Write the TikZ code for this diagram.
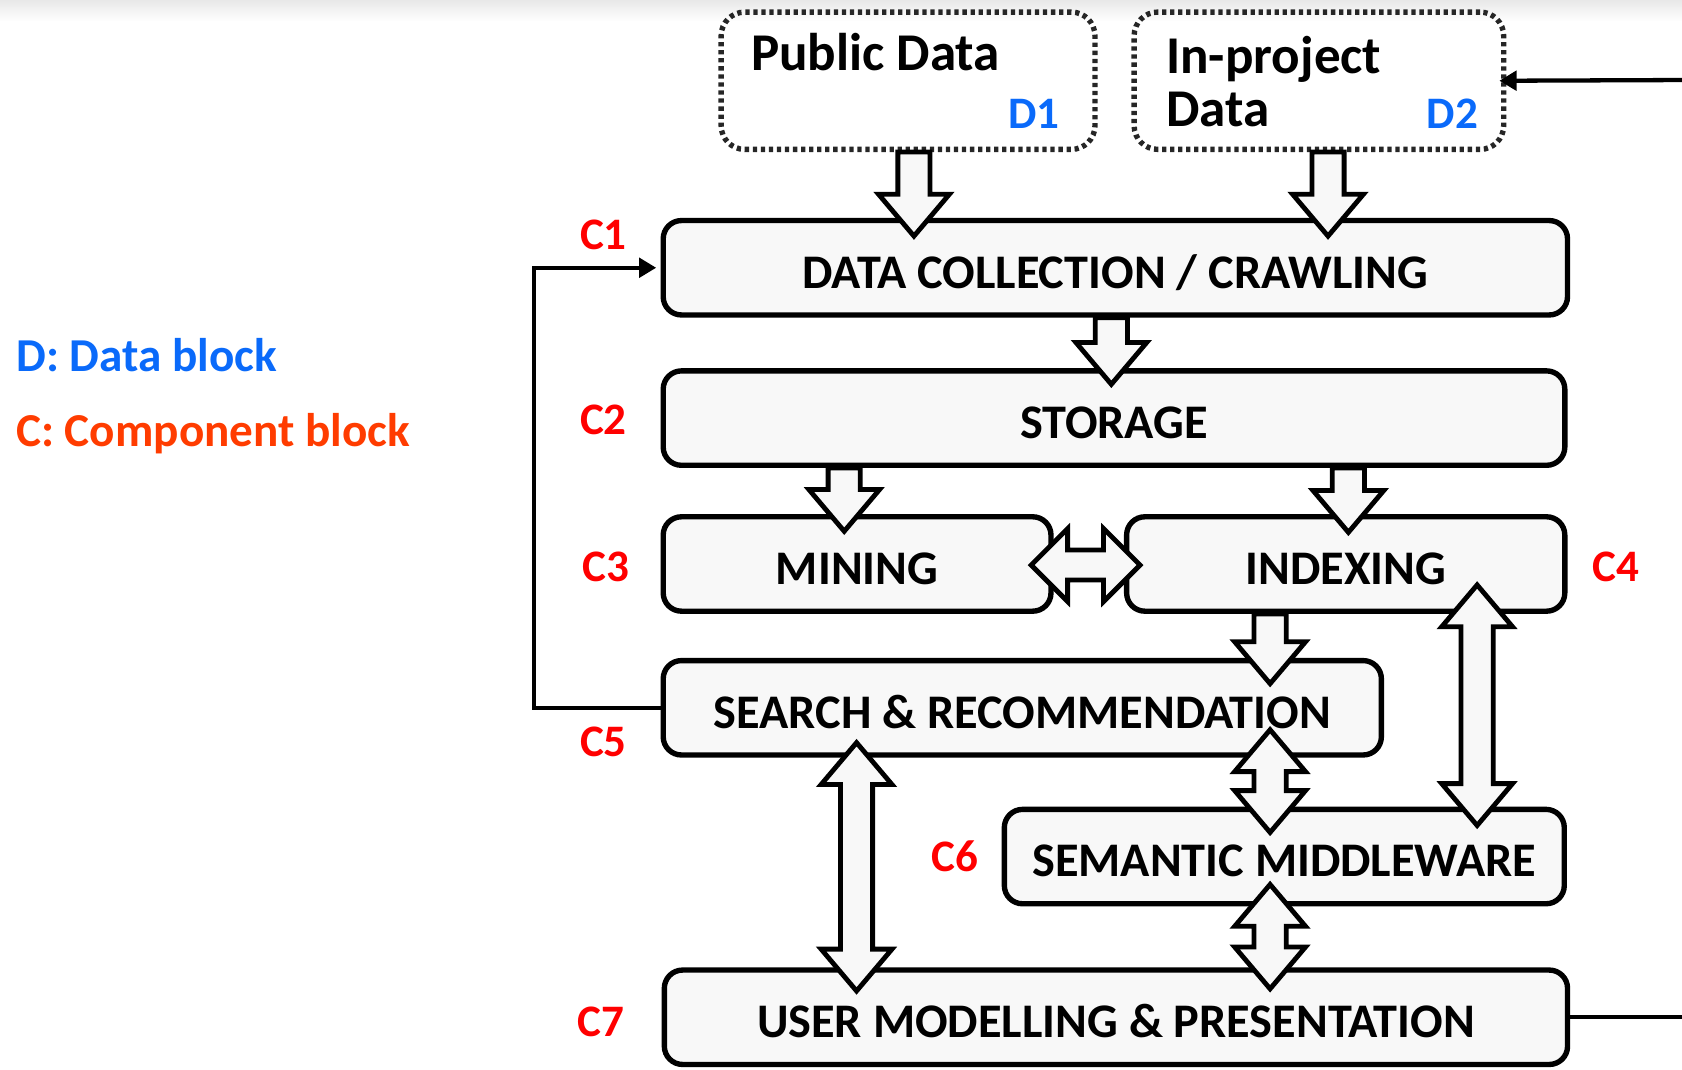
\documentclass[tikz,border=0pt]{standalone}
\usepackage{fontspec}
\setmainfont{Carlito}
\usetikzlibrary{calc,arrows.meta}
\definecolor{boxfill}{RGB}{248,248,248}
\definecolor{dblue}{RGB}{10,106,250}
\definecolor{cred}{RGB}{255,0,0}
\definecolor{legred}{RGB}{255,60,0}
\def\fatSW{15pt}\def\fatHW{33pt}\def\fatHL{39pt}
\def\fatHSW{14pt}\def\fatHHW{34pt}\def\fatHHL{34pt}
% single fat arrow pointing down: #1 tail (only y used), #2 tip
\newcommand\fatdown[2]{%
  \draw[fatarrow] let \p1=#1, \p2=#2 in
    (\x2-\fatSW,\y1) -- (\x2-\fatSW,\y2+\fatHL) -- (\x2-\fatHW,\y2+\fatHL) -- (\x2,\y2)
    -- (\x2+\fatHW,\y2+\fatHL) -- (\x2+\fatSW,\y2+\fatHL) -- (\x2+\fatSW,\y1) -- cycle;}
% vertical double fat arrow: #1 upper tip, #2 lower tip (x of #1 used)
\newcommand\fatvboth[2]{%
  \draw[fatarrow] let \p1=#1, \p2=#2 in
    (\x1,\y1) -- (\x1+\fatHW,\y1-\fatHL) -- (\x1+\fatSW,\y1-\fatHL) -- (\x1+\fatSW,\y2+\fatHL)
    -- (\x1+\fatHW,\y2+\fatHL) -- (\x1,\y2) -- (\x1-\fatHW,\y2+\fatHL) -- (\x1-\fatSW,\y2+\fatHL)
    -- (\x1-\fatSW,\y1-\fatHL) -- (\x1-\fatHW,\y1-\fatHL) -- cycle;}
% horizontal double fat arrow: #1 left tip, #2 right tip (y of #1 used)
\newcommand\fathboth[2]{%
  \draw[fatarrow] let \p1=#1, \p2=#2 in
    (\x1,\y1) -- (\x1+\fatHHL,\y1+\fatHHW) -- (\x1+\fatHHL,\y1+\fatHSW) -- (\x2-\fatHHL,\y1+\fatHSW)
    -- (\x2-\fatHHL,\y1+\fatHHW) -- (\x2,\y1) -- (\x2-\fatHHL,\y1-\fatHHW) -- (\x2-\fatHHL,\y1-\fatHSW)
    -- (\x1+\fatHHL,\y1-\fatHSW) -- (\x1+\fatHHL,\y1-\fatHHW) -- cycle;}
\begin{document}
\begin{tikzpicture}[x=1pt,y=-1pt,
  comp/.style={draw=black, line width=5pt, fill=boxfill, rounded corners=17pt,
    minimum height=88pt, inner sep=0pt, font=\bfseries\fontsize{45}{50}\selectfont,
    text height=38pt, text depth=0pt},
  dbox/.style={draw=black!85, line width=5pt, dash pattern=on 4pt off 3.5pt,
    rounded corners=22pt, minimum height=128pt, inner sep=0pt},
  dtext/.style={inner sep=0pt, font=\bfseries\fontsize{49.5}{49}\selectfont},
  dlab/.style={inner sep=0pt, text=dblue, font=\bfseries\fontsize{42}{42}\selectfont},
  clab/.style={inner sep=0pt, text=cred, font=\bfseries\fontsize{42}{42}\selectfont},
  legend/.style={inner sep=0pt, font=\bfseries\fontsize{44}{44}\selectfont},
  fatarrow/.style={draw=black, fill=boxfill, line width=4.5pt, line join=miter},
  thinline/.style={draw=black, line width=4pt},
  thinarrow/.style={thinline, -{Triangle[length=16pt,width=18pt]}}
]
\useasboundingbox (0,0) rectangle (1568,997);
\shade[top color=black!9, bottom color=white] (0,0) rectangle (1568,20);

% legend
\node[legend, text=dblue, anchor=base west] (legd) at (15,346.5) {D: Data block};
\node[legend, text=legred, anchor=base west] (legc) at (15,416.4) {C: Component block};

% data blocks
\node[dbox, minimum width=348.5pt] (d1) at (846.5,75.25) {};
\node[dbox, minimum width=344.5pt] (d2) at (1229.5,75.25) {};
\node[dtext, anchor=base west] (d1t) at (700,66) {Public Data};
\node[dtext, anchor=north west, align=left] (d2t) at (1087,34) {In-project\\Data};
\node[dlab, anchor=base east] (d1l) at (988,119.5) {D1};
\node[dlab, anchor=base east] (d2l) at (1378,119.5) {D2};

% component blocks
\node[comp, minimum width=843pt] (c1) at (1039.75,249.6) {DATA COLLECTION / CRAWLING};
\node[comp, minimum width=840.5pt] (c2) at (1038.5,389.75) {STORAGE};
\node[comp, minimum width=361.5pt] (c3) at (799,525.75) {MINING};
\node[comp, minimum width=408.5pt] (c4) at (1254.5,525.75) {INDEXING};
\node[comp, minimum width=669.5pt] (c5) at (953,659.8) {SEARCH \& RECOMMENDATION};
\node[comp, minimum width=522pt] (c6) at (1197.25,798.5) {SEMANTIC MIDDLEWARE};
\node[comp, minimum width=842pt] (c7) at (1040.3,948.3) {USER MODELLING \& PRESENTATION};

% component labels
\node[clab, anchor=base] (c1l) at (562.5,233) {C1};
\node[clab, anchor=base] (c2l) at (562.5,405.5) {C2};
\node[clab, anchor=base] (c3l) at (565,542) {C3};
\node[clab, anchor=base] (c4l) at (1506.5,542) {C4};
\node[clab, anchor=base] (c5l) at (562.5,705) {C5};
\node[clab, anchor=base] (c6l) at (890,812.6) {C6};
\node[clab, anchor=base] (c7l) at (560,966) {C7};

% thin connectors
\coordinate (fb) at (498,455);
\coordinate (inR) at (1568,74.6);
\coordinate (outR) at (1568,948.3);
\draw[thinarrow, shorten >=4pt] (c5.west) -| (fb) |- (c1.west);
\draw[thinarrow, shorten >=-6.5pt] (inR) -- (d2.east);
\draw[thinline] (c7.east) -- (outR);

% fat arrows
\fatdown{(d1.south)}{($(852,0 |- c1.north)+(0,17)$)}
\fatdown{(d2.south)}{($(1238,0 |- c1.north)+(0,17)$)}
\fatdown{(c1.south)}{($(1036,0 |- c2.north)+(0,15)$)}
\fatdown{(c2.south)}{($(787,0 |- c3.north)+(0,16)$)}
\fatdown{(c2.south)}{($(1257,0 |- c4.north)+(0,17)$)}
\fathboth{($(c3.east)+(-21,1)$)}{($(c4.west)+(15,1)$)}
\fatdown{(c4.south)}{($(1184,0 |- c5.north)+(0,24)$)}
\fatvboth{($(1377,0 |- c4.south)+(0,-27)$)}{($(1377,0 |- c6.north)+(0,17.5)$)}
\fatvboth{($(1184,0 |- c5.south)+(0,-26)$)}{($(1184,0 |- c6.north)+(0,24)$)}
\fatvboth{($(798.5,0 |- c5.south)+(0,-14)$)}{($(798.5,0 |- c7.north)+(0,22)$)}
\fatvboth{($(1184,0 |- c6.south)+(0,-20.5)$)}{($(1184,0 |- c7.north)+(0,20)$)}
\end{tikzpicture}
\end{document}
